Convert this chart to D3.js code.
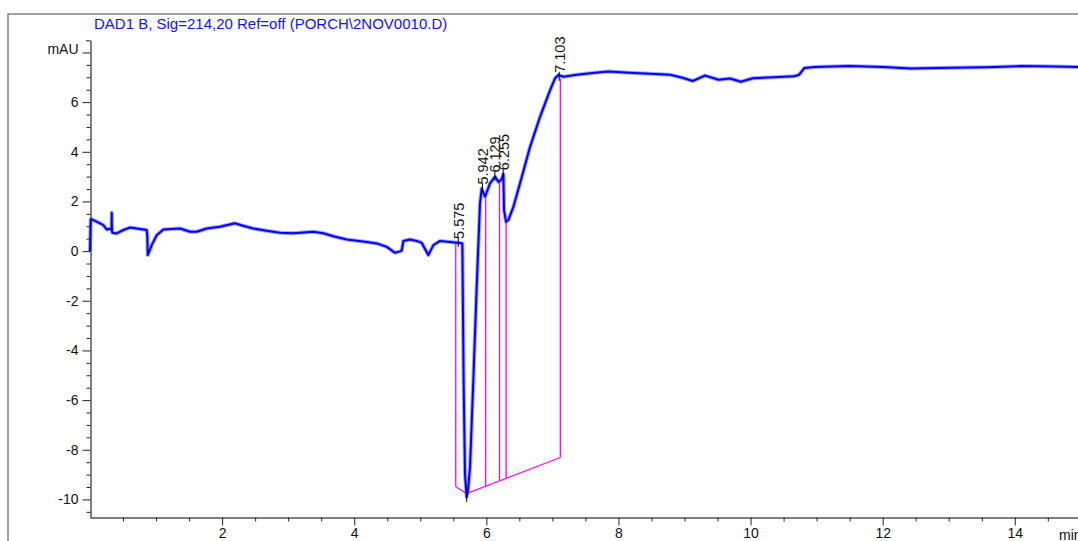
<!DOCTYPE html>
<html>
<head>
<meta charset="utf-8">
<script src="https://cdn.jsdelivr.net/npm/d3@7"></script>
<style>
  html, body { margin: 0; padding: 0; background: #fff; }
  svg { display: block; font-family: "Liberation Sans", Arial, sans-serif; }
</style>
</head>
<body>
<svg id="chart" width="1078" height="541"></svg>
<script>
// Chromatogram trace: retention time (min) and detector signal (mAU)
const timeMin = [0, 0.01, 0.026, 0.076, 0.151, 0.201, 0.253, 0.303, 0.326, 0.329, 0.333, 0.338,
  0.404, 0.504, 0.606, 0.757, 0.858, 0.868, 0.874, 0.934, 1.01, 1.11, 1.363, 1.514, 1.615,
  1.767, 1.968, 2.195, 2.316, 2.472, 2.675, 2.877, 3.078, 3.381, 3.532, 3.684, 3.886, 4.189,
  4.341, 4.492, 4.618, 4.719, 4.744, 4.845, 4.946, 5.022, 5.122, 5.198, 5.299, 5.45, 5.602,
  5.637, 5.655, 5.677, 5.703, 5.723, 5.753, 5.803, 5.854, 5.904, 5.93, 5.98, 6.056, 6.132,
  6.182, 6.233, 6.258, 6.268, 6.298, 6.333, 6.409, 6.51, 6.662, 6.813, 6.965, 7.04, 7.09,
  7.166, 7.369, 7.644, 7.852, 8.163, 8.476, 8.787, 8.995, 9.125, 9.307, 9.516, 9.69, 9.853,
  10.035, 10.347, 10.659, 10.734, 10.813, 10.969, 11.49, 12.009, 12.424, 13.048, 13.567,
  14.086, 14.607, 14.958, 15.14];
const signalMAU = [0, 1.28, 1.28, 1.22, 1.12, 1.05, 0.87, 0.9, 0.85, 1.54, 0.8, 0.74,
  0.71, 0.85, 0.95, 0.89, 0.85, 0.6, -0.16, 0.24, 0.64, 0.87, 0.91, 0.78, 0.78,
  0.91, 0.98, 1.12, 1.02, 0.91, 0.82, 0.74, 0.72, 0.78, 0.72, 0.6, 0.47, 0.37,
  0.31, 0.17, -0.07, 0.02, 0.41, 0.47, 0.41, 0.33, -0.16, 0.24, 0.41, 0.37, 0.33,
  0.31, -5, -9.0, -9.9, -9.6, -8.7, -5.2, -1.44, 1.92, 2.52, 2.19, 2.73, 3.0,
  2.79, 2.89, 3.1, 1.65, 1.18, 1.25, 1.78, 2.73, 4.2, 5.41, 6.48, 6.96, 7.09,
  7.02, 7.1, 7.18, 7.23, 7.18, 7.14, 7.1, 6.96, 6.85, 7.07, 6.9, 6.95, 6.82,
  6.96, 7.0, 7.04, 7.1, 7.37, 7.41, 7.45, 7.41, 7.35, 7.38, 7.4,
  7.45, 7.43, 7.41, 7.42];

// Integrated peaks: apex time, apex signal, label
const peakTimes = [5.575, 5.942, 6.129, 6.255, 7.103];
const peakHeights = [0.33, 2.52, 3.0, 3.1, 7.02];
const peakLabels = ["5.575", "5.942", "6.129", "6.255", "7.103"];

// Peak boundary drop lines (time, signal at top, baseline at bottom)
const dropTimes = [5.537, 5.99, 6.20, 6.30, 7.12];
const dropTop = [0.35, 2.13, 2.79, 1.14, 6.95];
const dropBottom = [-9.49, -9.46, -9.25, -9.15, -8.31];

// Integration baseline vertices
const baselineTimes = [5.537, 5.70, 7.12];
const baselineValues = [-9.49, -9.76, -8.31];

// Axis ticks
const yTickValues = [-10, -8, -6, -4, -2, 0, 2, 4, 6, 8];
const yTickLabels = ["-10", "-8", "-6", "-4", "-2", "0", "2", "4", "6", "mAU"];
const xTickValues = [2, 4, 6, 8, 10, 12, 14];
const xTickLabels = ["2", "4", "6", "8", "10", "12", "14"];

const title = "DAD1 B, Sig=214,20 Ref=off (PORCH\\2NOV0010.D)";

const svg = d3.select("#chart");

// scales
const x = d3.scaleLinear().domain([0, 15.29]).range([90, 1100]);
const y = d3.scaleLinear().domain([-10.72, 8.49]).range([517.3, 40.3]);

// outer frame
svg.append("rect")
  .attr("x", 8).attr("y", 14)
  .attr("width", 1100).attr("height", 560)
  .attr("fill", "none").attr("stroke", "#8a8a8a").attr("stroke-width", 1.6);

// title
svg.append("text")
  .attr("x", 94).attr("y", 28.5)
  .attr("fill", "#1010ff").attr("font-size", 15)
  .text(title);

// Y axis
const minorY = d3.range(-10.5, 8.01, 0.5).filter(v => !yTickValues.includes(v));
const yAxisMajor = d3.axisLeft(y).tickValues(yTickValues)
  .tickFormat((d, i) => yTickLabels[i]).tickSize(8).tickPadding(4).tickSizeOuter(0);
const gy = svg.append("g").attr("transform", "translate(90.5,0)").call(yAxisMajor);
gy.select(".domain").attr("stroke", "#000");
gy.selectAll(".tick line").attr("stroke", "#222");
gy.selectAll(".tick text").attr("font-size", 14).attr("fill", "#111")
  .attr("font-family", "Liberation Sans, Arial, sans-serif");
gy.selectAll(".tick").filter(d => d === 8).select("text").attr("dy", "0.1em");
svg.append("g").attr("transform", "translate(90.5,0)")
  .call(d3.axisLeft(y).tickValues(minorY).tickSize(4).tickFormat("").tickSizeOuter(0))
  .call(g => g.select(".domain").remove())
  .selectAll(".tick line").attr("stroke", "#222");
// top end cap of the Y axis
svg.append("line")
  .attr("x1", 86).attr("x2", 90.5)
  .attr("y1", y(8.49) + 0.5).attr("y2", y(8.49) + 0.5)
  .attr("stroke", "#222");

// X axis
const minorX = d3.range(0.5, 15.01, 0.5).filter(v => !xTickValues.includes(v));
const gx = svg.append("g").attr("transform", "translate(0,517.5)")
  .call(d3.axisBottom(x).tickValues(xTickValues)
    .tickFormat((d, i) => xTickLabels[i]).tickSize(8).tickPadding(3).tickSizeOuter(0));
gx.select(".domain").attr("stroke", "#000");
gx.selectAll(".tick line").attr("stroke", "#222");
gx.selectAll(".tick text").attr("font-size", 14).attr("fill", "#111")
  .attr("font-family", "Liberation Sans, Arial, sans-serif");
svg.append("g").attr("transform", "translate(0,517.5)")
  .call(d3.axisBottom(x).tickValues(minorX).tickSize(4).tickFormat("").tickSizeOuter(0))
  .call(g => g.select(".domain").remove())
  .selectAll(".tick line").attr("stroke", "#222");
// unit label of the time axis (runs off the right edge of the page)
svg.append("text")
  .attr("x", 1059).attr("y", 540)
  .attr("font-size", 14).attr("fill", "#111")
  .text("min");

// integration baseline and drop lines
svg.append("path")
  .datum(baselineTimes.map((t, i) => [t, baselineValues[i]]))
  .attr("d", d3.line().x(d => x(d[0])).y(d => y(d[1])))
  .attr("fill", "none").attr("stroke", "#ff00ff").attr("stroke-width", 1.2);
svg.append("g").selectAll("line")
  .data(dropTimes)
  .join("line")
  .attr("x1", d => x(d)).attr("x2", d => x(d))
  .attr("y1", (d, i) => y(dropTop[i])).attr("y2", (d, i) => y(dropBottom[i]))
  .attr("stroke", "#ff00ff").attr("stroke-width", 1.3);

// signal trace
const trace = timeMin.map((t, i) => [t, signalMAU[i]]);
const line = d3.line().x(d => x(d[0])).y(d => y(d[1]));
svg.append("path").datum(trace).attr("d", line)
  .attr("fill", "none").attr("stroke", "#4a4aff").attr("stroke-opacity", 0.5)
  .attr("stroke-width", 4).attr("stroke-linejoin", "round");
svg.append("path").datum(trace).attr("d", line)
  .attr("fill", "none").attr("stroke", "#0000ff")
  .attr("stroke-width", 2).attr("stroke-linejoin", "round");

// apex markers and retention time labels
svg.append("g").selectAll("line")
  .data(peakTimes)
  .join("line")
  .attr("x1", d => x(d)).attr("x2", d => x(d))
  .attr("y1", (d, i) => y(peakHeights[i]) - 5).attr("y2", (d, i) => y(peakHeights[i]) + 4)
  .attr("stroke", "#000").attr("stroke-width", 1);
svg.append("g").selectAll("text")
  .data(peakTimes)
  .join("text")
  .attr("transform", (d, i) => `translate(${x(d) + 5.5},${y(peakHeights[i]) - 4}) rotate(-90)`)
  .attr("font-size", 14.5).attr("fill", "#111")
  .text((d, i) => peakLabels[i]);
// valley marker at the negative peak minimum
svg.append("line")
  .attr("x1", x(5.703)).attr("x2", x(5.703))
  .attr("y1", y(-9.6)).attr("y2", y(-10.1))
  .attr("stroke", "#000").attr("stroke-width", 1);
</script>
</body>
</html>
